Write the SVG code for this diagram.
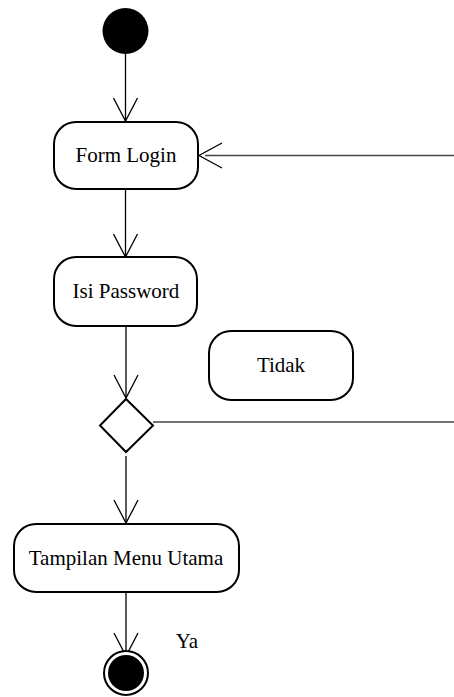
<svg xmlns="http://www.w3.org/2000/svg" width="454" height="697" viewBox="0 0 454 697">
<style>
.node{fill:#fff;stroke:#000;stroke-width:2}
.lbl{font-family:'Liberation Serif','Times New Roman',serif;font-size:21px;fill:#000;text-anchor:middle}
.edge{fill:none;stroke:#000;stroke-width:1.3}
.long{fill:none;stroke:#444;stroke-width:1.6}
</style>
<defs>
<marker id="open" viewBox="0 0 26 26" refX="24" refY="13" markerWidth="26" markerHeight="26" markerUnits="userSpaceOnUse" orient="auto">
<path d="M1,1 L24,13 L1,25" fill="none" stroke="#000" stroke-width="1.3"/>
</marker>
</defs>
<rect width="454" height="697" fill="#fff"/>
<g id="connectors">
<line class="edge" x1="125.5" y1="54" x2="125.5" y2="121" marker-end="url(#open)"/>
<line class="edge" x1="125.5" y1="189" x2="125.5" y2="257" marker-end="url(#open)"/>
<line class="edge" x1="126" y1="326" x2="126" y2="398" marker-end="url(#open)"/>
<line class="edge" x1="126" y1="456" x2="126" y2="523" marker-end="url(#open)"/>
<line class="edge" x1="126" y1="592" x2="126" y2="656" marker-end="url(#open)"/>
<line class="long" x1="153" y1="422" x2="456" y2="422"/>
<line class="long" x1="456" y1="155.5" x2="205" y2="155.5"/>
<path class="edge" d="M222,143 L199,155.5 L222,168"/>
</g>
<g id="start"><circle cx="125.5" cy="31" r="23" fill="#000"/></g>
<g id="form-login">
<rect class="node" x="54" y="122" width="144" height="67" rx="22"/>
<text class="lbl" x="126" y="162" font-family="Liberation Serif, serif">Form Login</text>
</g>
<g id="isi-password">
<rect class="node" x="54" y="257" width="143" height="69" rx="22"/>
<text class="lbl" x="126" y="298" font-family="Liberation Serif, serif">Isi Password</text>
</g>
<g id="tidak">
<rect class="node" x="209" y="331" width="144" height="69" rx="22"/>
<text class="lbl" x="281" y="372" font-family="Liberation Serif, serif">Tidak</text>
</g>
<g id="decision">
<polygon class="node" points="126,399 153,425.5 126,452 100,425.5"/>
</g>
<g id="tampilan-menu-utama">
<rect class="node" x="14" y="524" width="225" height="68" rx="22"/>
<text class="lbl" x="126" y="565" font-family="Liberation Serif, serif">Tampilan Menu Utama</text>
</g>
<g id="end">
<circle cx="126" cy="673" r="22" fill="#fff" stroke="#000" stroke-width="2"/>
<circle cx="126" cy="673" r="18" fill="#000"/>
</g>
<g id="label-ya"><text class="lbl" x="187" y="648" font-family="Liberation Serif, serif">Ya</text></g>
</svg>
